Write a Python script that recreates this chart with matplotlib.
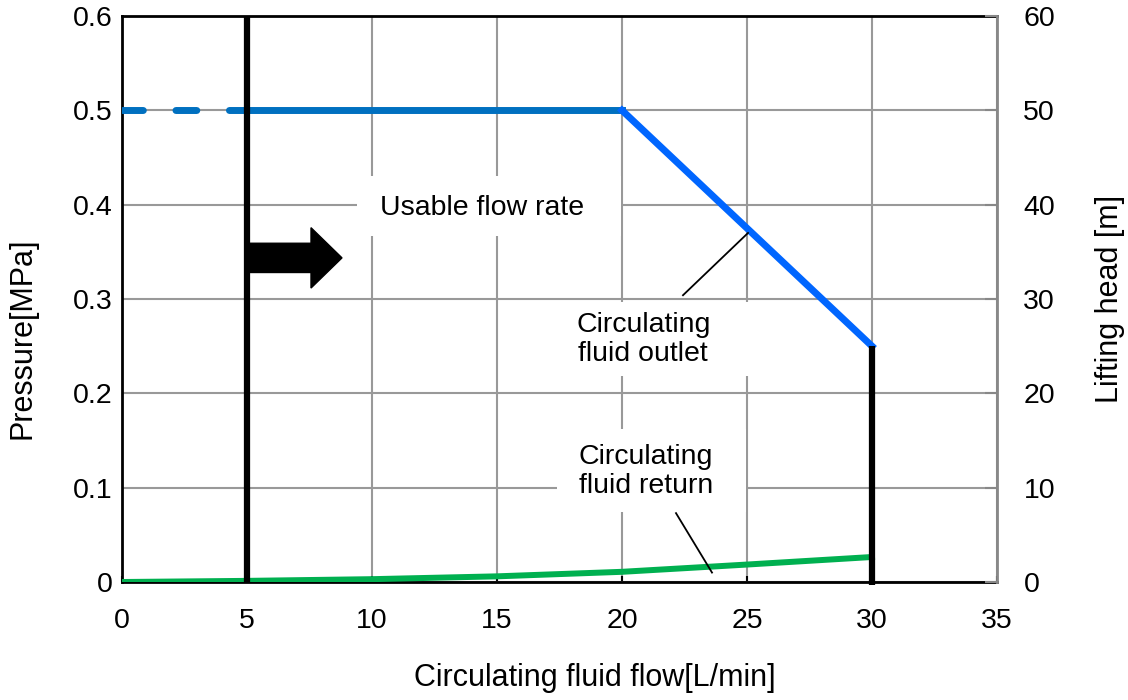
import matplotlib.pyplot as plt
from matplotlib.patches import FancyArrow, Rectangle

plt.rcParams['font.family'] = ['Liberation Sans', 'DejaVu Sans']
plt.rcParams['font.size'] = 20.5

# outlet pressure curve (MPa)
outlet_dash_x = [0, 5]
outlet_dash_y = [0.5, 0.5]
outlet_x = [5, 20, 30]
outlet_y = [0.5, 0.5, 0.25]

# return pressure curve (MPa)
return_x = [0, 5, 10, 15, 20, 25, 30]
return_y = [0.0, 0.0012, 0.003, 0.006, 0.0108, 0.0185, 0.0265]

# usable flow limits
min_flow = 5
max_flow = 30
max_flow_pressure = 0.25

x_ticks = [0, 5, 10, 15, 20, 25, 30, 35]
y_ticks = [0, 0.1, 0.2, 0.3, 0.4, 0.5, 0.6]
y_tick_labels = ['0', '0.1', '0.2', '0.3', '0.4', '0.5', '0.6']
head_ticks = [0, 10, 20, 30, 40, 50, 60]

fig = plt.figure(figsize=(11.28, 7), dpi=100)
ax = fig.add_axes([122/1128, 1 - 582/700, (997-122)/1128, (582-16)/700])
ax.set_xlim(0, 35)
ax.set_ylim(0, 0.6)
ax.set_xticks(x_ticks)
ax.set_yticks(y_ticks)
ax.set_yticklabels(y_tick_labels)
ax.grid(True, color='#999999', linewidth=1.5)
ax.set_axisbelow(True)
ax.tick_params(axis='x', direction='in', length=4, width=1.5, color='black', pad=19)
ax.tick_params(axis='y', length=0, pad=7)
for s in ['left', 'bottom', 'top']:
    ax.spines[s].set_linewidth(2)
    ax.spines[s].set_color('black')
ax.spines['right'].set_visible(False)
ax.set_xlabel('Circulating fluid flow[L/min]', va='center', fontsize=22)
ax.xaxis.set_label_coords(0.54, -0.170)
ax.set_ylabel('Pressure[MPa]', va='center', fontsize=22)
ax.yaxis.set_label_coords(-0.114, 0.43)

ax2 = ax.twinx()
ax2.set_ylim(0, 60)
ax2.set_yticks(head_ticks)
ax2.tick_params(axis='y', direction='in', length=9, width=1.5, color='#888888', pad=19)
for s in ['left', 'bottom', 'top']:
    ax2.spines[s].set_visible(False)
ax2.spines['right'].set_color('#888888')
ax2.spines['right'].set_linewidth(2)
ax2.set_ylabel('Lifting head [m]', va='center', fontsize=22)
ax2.yaxis.set_label_coords(1.129, 0.5)

# white boxes behind the labels (they hide the grid)
for (x0, y0, x1, y1) in [(9.4, 0.367, 19.96, 0.43), (18.0, 0.218, 25.1, 0.297),
                         (17.4, 0.074, 24.95, 0.162)]:
    ax.add_patch(Rectangle((x0, y0), x1 - x0, y1 - y0, facecolor='white', edgecolor='none',
                           zorder=1))

# lines
ax.plot(outlet_dash_x, outlet_dash_y, color='#0070C0', linewidth=5, linestyle=(0, (3.0, 4.7)),
        dash_capstyle='round', zorder=3)
ax.plot(outlet_x[:2], outlet_y[:2], color='#0070C0', linewidth=5, zorder=3)
ax.plot(outlet_x[1:], outlet_y[1:], color='#0066FF', linewidth=5, zorder=3)
ax.plot(return_x, return_y, color='#00B050', linewidth=4.3, zorder=3)
ax.plot([min_flow, min_flow], [0, 0.6], color='black', linewidth=4.5, zorder=4,
        solid_capstyle='butt')
ax.plot([max_flow, max_flow], [-0.003, max_flow_pressure], color='black', linewidth=4.5,
        zorder=4, solid_capstyle='butt', clip_on=False)

# arrow
ax.add_patch(FancyArrow(5, 0.3436, 2.56, 0, width=0.031, head_width=0.064, head_length=1.24,
                        length_includes_head=False, color='black', zorder=5))

# labels
ax.text(14.4, 0.396, 'Usable flow rate', ha='center', va='center', zorder=6)
ax.text(20.85, 0.2566, 'Circulating\nfluid outlet', ha='center', va='center',
        linespacing=1.15, zorder=6)
ax.text(20.95, 0.117, 'Circulating\nfluid return', ha='center', va='center',
        linespacing=1.15, zorder=6)
ax.plot([22.44, 25.04], [0.304, 0.370], color='black', linewidth=1.3, zorder=6)
ax.plot([22.16, 23.6], [0.073, 0.01], color='black', linewidth=1.3, zorder=6)

fig.savefig('out.png', dpi=100)
